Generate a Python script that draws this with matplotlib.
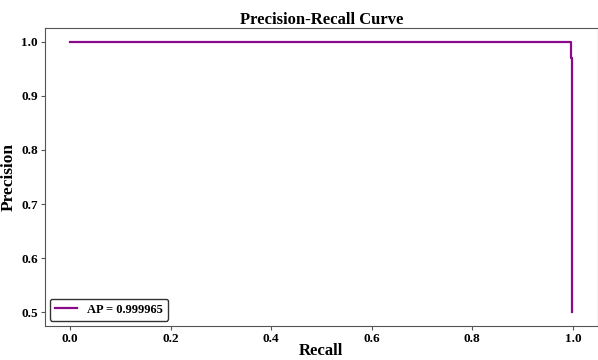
import matplotlib
matplotlib.use("Agg")
import matplotlib.pyplot as plt

plt.rcParams['font.family'] = ['Liberation Serif', 'DejaVu Serif']
plt.rcParams['font.weight'] = 'bold'

# PR curve points
recall = [0.0, 0.9965, 0.9965, 0.998, 0.998]
precision = [1.0, 1.0, 0.97, 0.97, 0.5]
ap = 0.999965

fig = plt.figure(figsize=(5.98, 3.6), dpi=100)
ax = fig.add_axes([0.075, 0.095, 0.925, 0.827])

ax.plot(recall, precision, color='#8b0a8b', lw=1.6, label='AP = %.6f' % ap)
ax.set_xlim(-0.05, 1.05)
ax.set_ylim(0.475, 1.025)
ax.set_xticks([0.0, 0.2, 0.4, 0.6, 0.8, 1.0])
ax.set_yticks([0.5, 0.6, 0.7, 0.8, 0.9, 1.0])

ax.set_title('Precision-Recall Curve', fontsize=12, fontweight='bold', pad=2)
ax.set_xlabel('Recall', fontsize=12, fontweight='bold', labelpad=-1.5)
ax.set_ylabel('Precision', fontsize=12.5, fontweight='bold', labelpad=3)

for lab in ax.get_xticklabels() + ax.get_yticklabels():
    lab.set_fontweight('bold')
ax.tick_params(labelsize=9.5, colors='#555555', labelcolor='black',
               length=3, pad=2)
for s in ax.spines.values():
    s.set_color('#555555')

leg = ax.legend(loc='lower left', prop={'size': 9, 'weight': 'bold'},
                frameon=True, fancybox=True, borderaxespad=0.4,
                handlelength=1.8)
leg.get_frame().set_edgecolor('#333333')
leg.get_frame().set_alpha(1)

fig.savefig('out.png', dpi=100)
